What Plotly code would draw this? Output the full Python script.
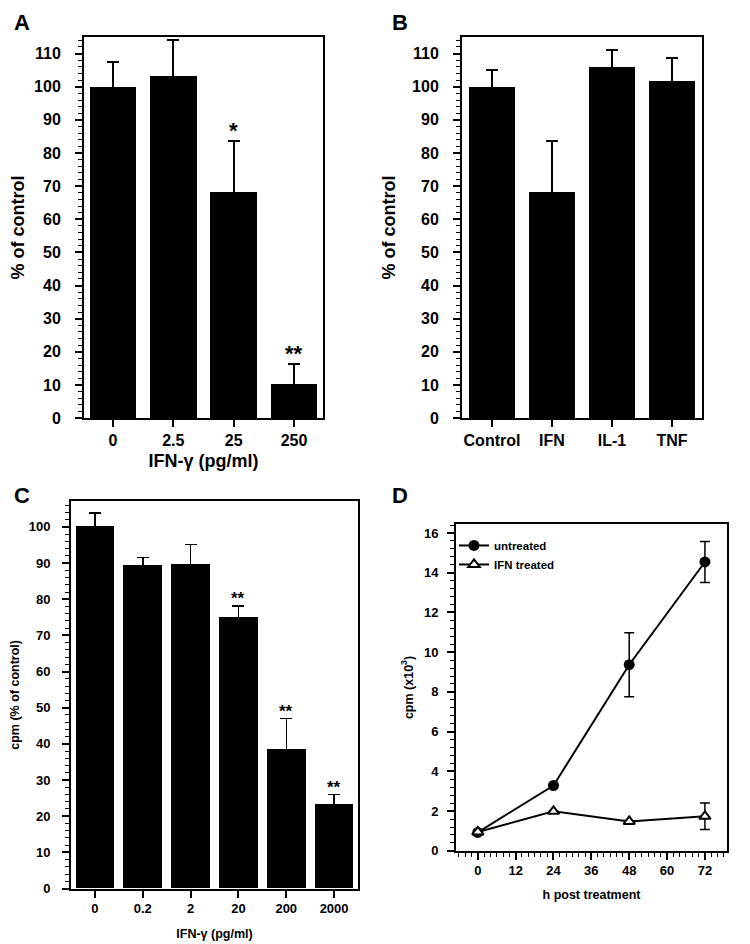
import plotly.graph_objects as go

# ---------------- data ----------------
A_cats = ["0", "2.5", "25", "250"]
A_vals = [100.1, 103.4, 68.3, 10.5]
A_err = [7.4, 10.7, 15.3, 5.9]
A_sig = ["", "", "*", "**"]

B_cats = ["Control", "IFN", "IL-1", "TNF"]
B_vals = [100.1, 68.3, 105.9, 101.9]
B_err = [4.9, 15.2, 5.2, 6.7]

C_cats = ["0", "0.2", "2", "20", "200", "2000"]
C_vals = [100.1, 89.4, 89.7, 75.1, 38.4, 23.4]
C_err = [3.8, 2.2, 5.5, 3.0, 8.6, 2.6]
C_sig = ["", "", "", "**", "**", "**"]

D_hours = [0, 24, 48, 72]
D_untreated = [0.93, 3.29, 9.37, 14.54]
D_untreated_err = [0.0, 0.0, 1.61, 1.03]
D_ifn = [0.95, 1.99, 1.48, 1.74]
D_ifn_err = [0.0, 0.0, 0.0, 0.67]

FONT = "Arial, Liberation Sans, sans-serif"
W, H = 750, 944


def px_dom_x(a, b):
    return [a / W, b / W]


def px_dom_y(top, bottom):
    return [1 - bottom / H, 1 - top / H]


def axis_style(**kw):
    d = dict(showline=True, linecolor="black", linewidth=2, mirror=True,
             ticks="outside", ticklen=7, tickwidth=1.5, tickcolor="black",
             showgrid=False, zeroline=False)
    d.update(kw)
    return d


fig = go.Figure()

# ---- Panel A ----
fig.add_trace(go.Bar(
    x=list(range(len(A_cats))), y=A_vals, width=0.77, marker=dict(color="black", line=dict(width=0)),
    error_y=dict(type="data", array=A_err, symmetric=True,
                 color="black", thickness=2, width=6),
    xaxis="x", yaxis="y", showlegend=False))

# ---- Panel B ----
fig.add_trace(go.Bar(
    x=list(range(len(B_cats))), y=B_vals, width=0.78, marker=dict(color="black", line=dict(width=0)),
    error_y=dict(type="data", array=B_err, symmetric=True,
                 color="black", thickness=2, width=6),
    xaxis="x2", yaxis="y2", showlegend=False))

# ---- Panel C ----
fig.add_trace(go.Bar(
    x=list(range(len(C_cats))), y=C_vals, width=0.81, marker=dict(color="black", line=dict(width=0)),
    error_y=dict(type="data", array=C_err, symmetric=True,
                 color="black", thickness=1.5, width=6),
    xaxis="x3", yaxis="y3", showlegend=False))

# ---- Panel D ----
fig.add_trace(go.Scatter(
    x=D_hours, y=D_untreated, mode="lines+markers", name="untreated",
    line=dict(color="black", width=2),
    marker=dict(symbol="circle", size=11, color="black"),
    error_y=dict(type="data", array=D_untreated_err, color="black", thickness=1.5, width=5),
    xaxis="x4", yaxis="y4"))
fig.add_trace(go.Scatter(
    x=D_hours, y=D_ifn, mode="lines+markers", name="IFN treated",
    line=dict(color="black", width=2),
    marker=dict(symbol="triangle-up", size=10, color="white", line=dict(color="black", width=2)),
    error_y=dict(type="data", array=D_ifn_err, color="black", thickness=1.5, width=5),
    xaxis="x4", yaxis="y4"))

annotations = []
for i, (v, e, s) in enumerate(zip(A_vals, A_err, A_sig)):
    if s:
        annotations.append(dict(x=i, y=v + e, xref="x", yref="y", text=s, showarrow=False,
                                yanchor="bottom", yshift=-4,
                                font=dict(family=FONT, size=22, color="black", weight="bold")))
for i, (v, e, s) in enumerate(zip(C_vals, C_err, C_sig)):
    if s:
        annotations.append(dict(x=i, y=v + e, xref="x3", yref="y3", text=s, showarrow=False,
                                yanchor="bottom", yshift=-4,
                                font=dict(family=FONT, size=17, color="black", weight="bold")))

for letter, (lx, ly) in zip("ABCD", [(14, 15), (392, 15), (14, 492), (392, 492)]):
    annotations.append(dict(x=lx / W, y=1 - ly / H, xref="paper", yref="paper", text=letter,
                            showarrow=False, xanchor="center", yanchor="middle",
                            font=dict(family=FONT, size=22, color="black", weight="bold")))

big_tick = dict(family=FONT, size=16, color="black", weight="bold")
big_title = dict(family=FONT, size=18, color="black", weight="bold")
small_tick = dict(family=FONT, size=13, color="black", weight="bold")
small_title = dict(family=FONT, size=12.5, color="black", weight="bold")

fig.update_layout(
    width=W, height=H, margin=dict(l=0, r=0, t=0, b=0),
    paper_bgcolor="white", plot_bgcolor="white",
    bargap=0,
    annotations=annotations,
    # A
    xaxis=axis_style(domain=px_dom_x(76, 315), anchor="y", range=[-0.48, 3.48],
                     tickvals=list(range(len(A_cats))), ticktext=A_cats,
                     tickfont=big_tick, ticklabelstandoff=0,
                     title=dict(text="IFN-γ (pg/ml)", font=big_title, standoff=6)),
    yaxis=axis_style(domain=px_dom_y(29, 414), anchor="x", range=[0, 115.1],
                     tickvals=list(range(0, 111, 10)), tickfont=big_tick, ticklabelstandoff=11,
                     minor=dict(dtick=2, ticks="outside", ticklen=4, tickcolor="black", tickwidth=1.2),
                     title=dict(text="% of control", font=big_title, standoff=6)),
    # B
    xaxis2=axis_style(domain=px_dom_x(454, 694), anchor="y2", range=[-0.5, 3.5],
                      tickvals=list(range(len(B_cats))), ticktext=B_cats,
                      tickfont=big_tick, ticklabelstandoff=0),
    yaxis2=axis_style(domain=px_dom_y(29, 414), anchor="x2", range=[0, 115.1],
                      tickvals=list(range(0, 111, 10)), tickfont=big_tick, ticklabelstandoff=11,
                      minor=dict(dtick=2, ticks="outside", ticklen=4, tickcolor="black", tickwidth=1.2),
                      title=dict(text="% of control", font=big_title, standoff=12)),
    # C
    xaxis3=axis_style(domain=px_dom_x(63, 350), anchor="y3", range=[-0.5, 5.5],
                      tickvals=list(range(len(C_cats))), ticktext=C_cats,
                      tickfont=small_tick, ticklabelstandoff=0,
                      title=dict(text="IFN-γ (pg/ml)", font=small_title, standoff=14)),
    yaxis3=axis_style(domain=px_dom_y(498, 889), anchor="x3", range=[0, 107.1],
                      tickvals=list(range(0, 101, 10)), tickfont=small_tick, ticklabelstandoff=9,
                      minor=dict(dtick=2, ticks="outside", ticklen=4, tickcolor="black", tickwidth=1.2),
                      title=dict(text="cpm (% of control)", font=small_title, standoff=6)),
    # D
    xaxis4=axis_style(domain=px_dom_x(448, 719), anchor="y4", range=[-6.9, 79],
                      tickvals=[0, 12, 24, 36, 48, 60, 72], tickfont=small_tick, ticklabelstandoff=0,
                      minor=dict(dtick=2, ticks="outside", ticklen=4, tickcolor="black", tickwidth=1.2),
                      title=dict(text="h post treatment", font=small_title, standoff=13)),
    yaxis4=axis_style(domain=px_dom_y(521, 851), anchor="x4", range=[0, 16.45],
                      tickvals=list(range(0, 17, 2)), tickfont=small_tick, ticklabelstandoff=6,
                      minor=dict(dtick=0.4, ticks="outside", ticklen=4, tickcolor="black", tickwidth=1.2),
                      title=dict(text="cpm (x10<sup>3</sup>)", font=small_title, standoff=8)),
    legend=dict(x=446 / W, y=1 - 528 / H, xanchor="left", yanchor="top",
                bgcolor="rgba(0,0,0,0)", borderwidth=0,
                font=dict(family=FONT, size=11.5, color="black", weight="bold"),
                itemwidth=30, tracegroupgap=0),
)

fig.write_html("out.html")
